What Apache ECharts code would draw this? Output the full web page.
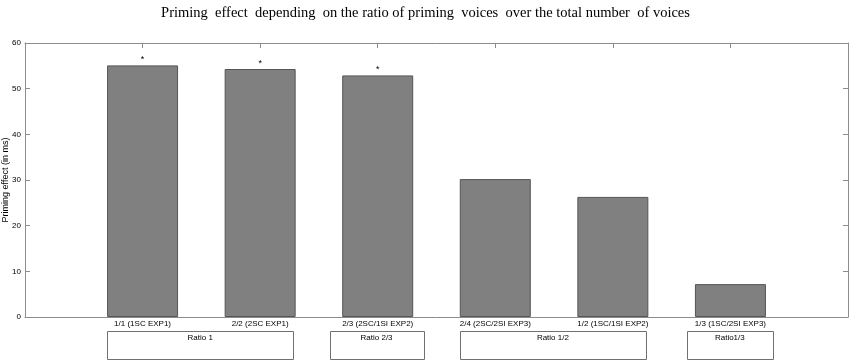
<!DOCTYPE html>
<html>
<head>
<meta charset="utf-8">
<script src="https://cdn.jsdelivr.net/npm/echarts@6/dist/echarts.min.js"></script>
<style>
html, body { margin: 0; padding: 0; background: #fff; }
#chart { width: 851px; height: 362px; }
</style>
</head>
<body>
<div id="chart"></div>
<script>
var myChart = echarts.init(document.getElementById('chart'));

// 数据
var categories = ['1/1 (1SC EXP1)', '2/2 (2SC EXP1)', '2/3 (2SC/1SI EXP2)', '2/4 (2SC/2SI EXP3)', '1/2 (1SC/1SI EXP2)', '1/3 (1SC/2SI EXP3)'];
var values = [55.1, 54.3, 52.9, 30.2, 26.3, 7.2];
var significant = [1, 1, 1, 0, 0, 0];
var yTicks = [0, 10, 20, 30, 40, 50, 60];

// 比例分组 (x 轴上的起止位置)
var groupNames = ['Ratio 1', 'Ratio 2/3', 'Ratio 1/2', 'Ratio1/3'];
var groupFrom = [0.7, 2.59, 3.7, 5.63];
var groupTo = [2.28, 3.39, 5.28, 6.36];

// 柱子位于 1..6，x 轴从 0 到 7
var barData = values.map(function (v, i) {
    return {
        value: [i + 1, v],
        label: { show: significant[i] === 1 }
    };
});

var boxData = groupNames.map(function (n, i) {
    return [groupFrom[i], groupTo[i]];
});

var axisColor = '#8c8c8c';
var fontName = 'Liberation Sans';

option = {
    animation: false,
    title: {
        text: 'Priming  effect  depending  on the ratio of priming  voices  over the total number  of voices',
        left: 'center',
        top: 1,
        textStyle: {
            fontFamily: 'Liberation Serif',
            fontWeight: 'normal',
            fontSize: 14.5,
            color: '#000'
        }
    },
    grid: {
        left: 25,
        right: 3,
        top: 43,
        bottom: 45,
        outerBoundsMode: 'none',
        containLabel: false
    },
    xAxis: [
        {
            type: 'value',
            min: 0,
            max: categories.length + 1,
            interval: 1,
            axisLine: { show: true, onZero: false, lineStyle: { color: axisColor } },
            axisTick: { show: false },
            axisLabel: {
                color: '#000',
                fontFamily: fontName,
                fontSize: 8,
                margin: 3,
                formatter: function (v) {
                    return categories[v - 1] || '';
                }
            },
            splitLine: { show: false }
        },
        {
            type: 'value',
            min: 0,
            max: categories.length + 1,
            interval: 1,
            position: 'top',
            axisLine: { show: true, onZero: false, lineStyle: { color: axisColor } },
            axisTick: { show: true, inside: true, length: 5, lineStyle: { color: axisColor } },
            axisLabel: { show: false },
            splitLine: { show: false }
        }
    ],
    yAxis: [
        {
            type: 'value',
            min: yTicks[0],
            max: yTicks[yTicks.length - 1],
            interval: 10,
            name: 'Priming effect (in ms)',
            nameLocation: 'middle',
            nameGap: 15,
            nameMoveOverlap: false,
            nameTextStyle: {
                color: '#000',
                fontFamily: fontName,
                fontSize: 9
            },
            axisLine: { show: true, onZero: false, lineStyle: { color: axisColor } },
            axisTick: { show: true, inside: true, length: 5, lineStyle: { color: axisColor } },
            axisLabel: {
                color: '#000',
                fontFamily: fontName,
                fontSize: 8,
                margin: 4
            },
            splitLine: { show: false }
        },
        {
            type: 'value',
            min: yTicks[0],
            max: yTicks[yTicks.length - 1],
            interval: 10,
            position: 'right',
            axisLine: { show: true, onZero: false, lineStyle: { color: axisColor } },
            axisTick: { show: true, inside: true, length: 5, lineStyle: { color: axisColor } },
            axisLabel: { show: false },
            splitLine: { show: false }
        }
    ],
    series: [
        {
            type: 'bar',
            data: barData,
            barWidth: 71,
            itemStyle: {
                color: '#808080',
                borderColor: '#555555',
                borderWidth: 1
            },
            label: {
                position: 'top',
                distance: 1,
                formatter: '*',
                color: '#000',
                fontSize: 9
            }
        },
        {
            // 分组方框
            type: 'custom',
            clip: false,
            silent: true,
            data: boxData,
            encode: { x: [0, 1] },
            renderItem: function (params, api) {
                var p1 = api.coord([api.value(0), 0]);
                var p2 = api.coord([api.value(1), 0]);
                var top = Math.round(p1[1]) + 14;
                var h = 28;
                return {
                    type: 'group',
                    children: [
                        {
                            type: 'rect',
                            shape: { x: Math.round(p1[0]) + 0.5, y: top + 0.5, width: Math.round(p2[0] - p1[0]), height: h },
                            style: { fill: '#fff', stroke: '#707070', lineWidth: 1 }
                        },
                        {
                            type: 'text',
                            x: (p1[0] + p2[0]) / 2,
                            y: top + 3,
                            style: {
                                text: groupNames[params.dataIndex],
                                textAlign: 'center',
                                textVerticalAlign: 'top',
                                fill: '#000',
                                font: '8px "Liberation Sans"'
                            }
                        }
                    ]
                };
            }
        }
    ]
};

myChart.setOption(option);
</script>
</body>
</html>
